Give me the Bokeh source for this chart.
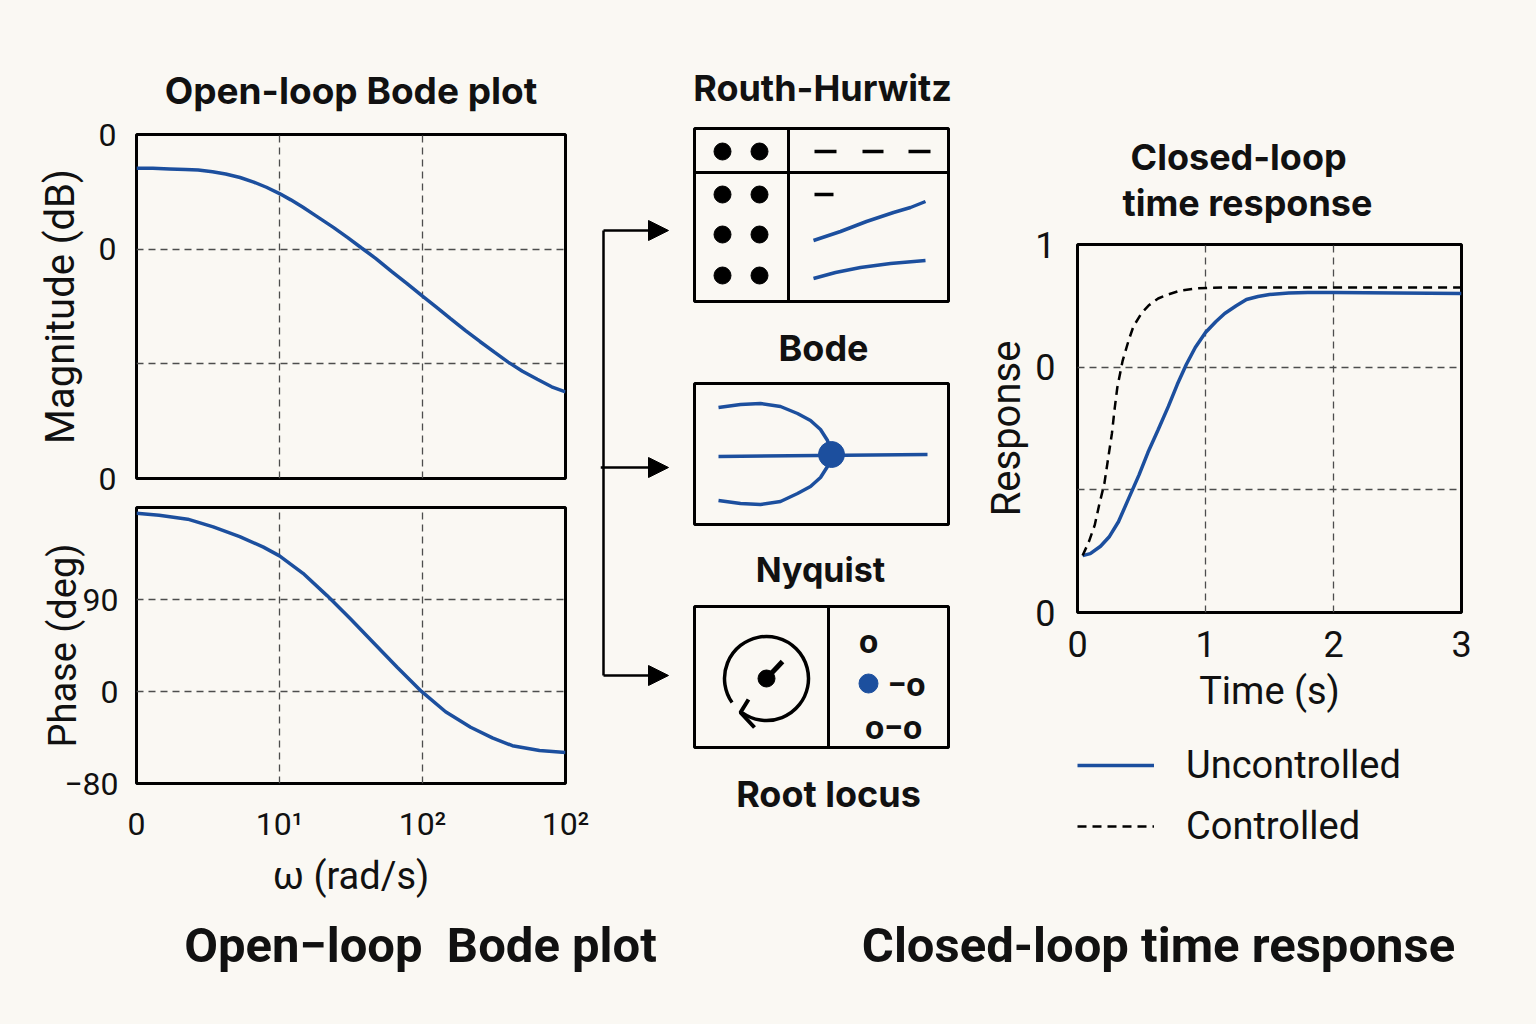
import numpy as np
from bokeh.plotting import figure
from bokeh.layouts import row, column
from bokeh.models import Range1d, FixedTicker, Arrow, NormalHead, Legend, LegendItem, Title
from bokeh.core.properties import value
from bokeh.embed import file_html
from bokeh.resources import INLINE

BG = "#faf8f3"
BLUE = "#1c4f9e"
INK = "#111111"
GRID = "#4d4d4d"
TITLE_FONT = "Inter"
LABEL_FONT = "Roboto"
CAPTION_FONT = "Roboto"

# ---------------- data ----------------
bode_omega = [1.0, 1.3, 1.7, 2.2, 2.7, 3.4, 4.2, 5.3, 6.6, 8.1, 10, 12, 14.6, 18, 23.8, 30,
              37.5, 47, 61, 78, 100, 125, 157, 200, 252, 320, 397, 500, 635, 800, 1000]
bode_mag_db = [-5.9, -5.9, -6.0, -6.1, -6.2, -6.5, -6.9, -7.5, -8.3, -9.2, -10.3, -11.4, -12.7,
               -14.2, -16.2, -18.0, -19.8, -21.6, -23.9, -26.0, -28.2, -30.1, -32.1, -34.2,
               -36.1, -38.0, -39.7, -41.3, -42.7, -44.0, -44.9]
phase_omega = [1.0, 1.44, 2.28, 3.44, 5.27, 7.72, 10, 14.6, 21.5, 31.3, 44.9, 66.5, 98.4, 145,
               217, 308, 425, 658, 1000]
phase_deg = [174.3, 172.4, 168.6, 161.1, 151.6, 141.2, 132.7, 115.6, 93.8, 71.1, 48.5, 23.8,
             0.1, -19.8, -35.0, -45.4, -53.0, -57.7, -59.6]

omega_ticks = [1, 10, 100, 1000]
omega_tick_labels = ["0", "10¹", "10²", "10²"]
mag_yticks = [0, -20, -40, -60]
mag_ytick_labels = ["0", "0", "", "0"]
phase_yticks = [-90, 0, 90]
phase_ytick_labels = ["−80", "0", "90"]

time_unc = [0.04, 0.10, 0.18, 0.25, 0.32, 0.40, 0.48, 0.55, 0.63, 0.71, 0.78, 0.85, 0.92, 1.00,
            1.08, 1.15, 1.24, 1.32, 1.41, 1.50, 1.65, 1.80, 2.00, 2.50, 3.00]
resp_unc = [0.232, 0.240, 0.270, 0.310, 0.370, 0.465, 0.560, 0.652, 0.745, 0.840, 0.930, 1.011,
            1.080, 1.141, 1.185, 1.219, 1.250, 1.276, 1.288, 1.296, 1.302, 1.304, 1.304, 1.302,
            1.300]
time_ctl = [0.04, 0.09, 0.134, 0.17, 0.21, 0.24, 0.269, 0.29, 0.311, 0.353, 0.40, 0.437, 0.50,
            0.555, 0.63, 0.706, 0.80, 0.924, 1.05, 1.213, 2.0, 3.0]
resp_ctl = [0.232, 0.29, 0.355, 0.44, 0.526, 0.63, 0.730, 0.83, 0.917, 1.027, 1.11, 1.166, 1.22,
            1.251, 1.280, 1.296, 1.312, 1.321, 1.324, 1.325, 1.325, 1.325]
time_ticks = [0, 1, 2, 3]
time_tick_labels = ["0", "1", "2", "3"]
resp_yticks = [0, 0.5, 1.0, 1.5]
resp_ytick_labels = ["0", "", "0", "1"]
series_names = ["Uncontrolled", "Controlled"]

# schematic panels (middle column, page-pixel coordinates)
panel_titles = ["Routh-Hurwitz", "Bode", "Nyquist", "Root locus"]
panel_title_x = [822, 823, 820, 828]
panel_title_y = [87, 347, 569, 793]
panel_title_size = ["36px", "36px", "34px", "36px"]
box_left = [694, 694, 694]
box_right = [948, 948, 948]
box_top = [128, 383, 606]
box_bottom = [301, 524, 747]
divider_x0 = [788, 694, 828]
divider_y0 = [128, 172, 606]
divider_x1 = [788, 948, 828]
divider_y1 = [301, 172, 747]
routh_dot_x = [722, 759, 722, 759, 722, 759, 722, 759]
routh_dot_y = [151, 151, 194, 194, 234, 234, 275, 275]
routh_dash_x0 = [814, 862, 908, 814]
routh_dash_x1 = [836, 883, 930, 833]
routh_dash_y = [151, 151, 151, 194]
routh_curve1_x = [813, 840, 866, 893, 910, 925]
routh_curve1_y = [240, 231, 221, 212, 207, 201]
routh_curve2_x = [813, 835, 860, 890, 925]
routh_curve2_y = [278, 272, 267, 263, 260]
bode_sk_mid_x = [718, 927]
bode_sk_mid_y = [456, 454]
bode_sk_arc_x = [718, 740, 760, 780, 797, 810, 820, 827, 831]
bode_sk_up_y = [407, 404, 403, 406, 413, 420, 429, 440, 453]
bode_sk_lo_y = [500, 503, 504, 501, 493, 486, 477, 466, 453]
bode_sk_dot = (831, 454)
nyq_center = (766, 678)
nyq_radius = 42
nyq_start_deg = 235
nyq_end_deg = 215
nyq_needle_x = [766, 782]
nyq_needle_y = [678, 661]
nyq_chevron_x = [748, 740, 754]
nyq_chevron_y = [699, 712, 727]
rl_text = ["o", "−o", "o−o"]
rl_text_x = [868, 906, 893]
rl_text_y = [640, 683, 726]
rl_dot = (868, 683)
conn_x = [603, 603]
conn_y = [230, 675]
arrow_rows = [(603, 230), (600, 467), (603, 675)]
arrow_tip_x = 668

captions = ["Open−loop \u00a0Bode plot", "Closed-loop time response"]
caption_x = [420, 1158]
caption_y = [45, 45]


def base_fig(**kw):
    p = figure(output_backend="svg", toolbar_location=None, **kw)
    p.background_fill_color = BG
    p.border_fill_color = BG
    return p


def bare(p):
    p.outline_line_color = None
    p.xgrid.visible = False
    p.ygrid.visible = False


def style_axes(p, tick_size, label_size):
    p.outline_line_color = "black"
    p.outline_line_width = 3
    for ax in p.axis:
        ax.axis_line_color = None
        ax.major_tick_line_color = None
        ax.minor_tick_line_color = None
        ax.major_label_text_font = LABEL_FONT
        ax.major_label_text_font_size = tick_size
        ax.major_label_text_color = INK
        ax.axis_label_text_font = LABEL_FONT
        ax.axis_label_text_font_size = label_size
        ax.axis_label_text_font_style = "normal"
        ax.axis_label_text_color = INK
    for g in p.grid:
        g.grid_line_color = GRID
        g.grid_line_dash = "7 5"
        g.grid_line_width = 1.3


def style_title(t, size, standoff, align="center", offset=0):
    t.text_font = TITLE_FONT
    t.text_font_size = size
    t.text_font_style = "bold"
    t.text_color = INK
    t.align = align
    t.standoff = standoff
    t.offset = offset


omega_range = Range1d(1, 1000)

# ---------------- magnitude ----------------
pm = base_fig(width=600, height=500, x_axis_type="log", x_range=omega_range,
              y_range=Range1d(-60, 0), title="Open-loop Bode plot",
              min_border_left=136, min_border_right=35, min_border_top=134,
              min_border_bottom=22)
pm.xaxis.ticker = FixedTicker(ticks=omega_ticks)
pm.xgrid.ticker = FixedTicker(ticks=omega_ticks)
pm.xaxis.visible = False
pm.yaxis.ticker = FixedTicker(ticks=mag_yticks)
pm.ygrid.ticker = FixedTicker(ticks=mag_yticks)
pm.yaxis.major_label_overrides = dict(zip(mag_yticks, mag_ytick_labels))
pm.yaxis.axis_label = "Magnitude (dB)"
style_axes(pm, "32px", "40px")
pm.yaxis.major_label_standoff = 14
pm.yaxis.axis_label_standoff = 12
style_title(pm.title, "37px", 44)
pm.line(bode_omega, bode_mag_db, line_color=BLUE, line_width=3.5)
# connector leaving the magnitude plot towards the diagrams
y_conn = -(467 - 134) * 60 / 344
pm.add_layout(Arrow(end=None, x_start=1000, y_start=y_conn, x_end=1000 * 10 ** (45 / 143),
                    y_end=y_conn, line_width=2.5, line_color="black"))

# ---------------- phase ----------------
pp = base_fig(width=600, height=400, x_axis_type="log", x_range=omega_range,
              y_range=Range1d(-90, 180),
              min_border_left=136, min_border_right=35, min_border_top=7,
              min_border_bottom=107)
pp.xaxis.ticker = FixedTicker(ticks=omega_ticks)
pp.xgrid.ticker = FixedTicker(ticks=omega_ticks)
pp.xaxis.major_label_overrides = dict(zip(omega_ticks, omega_tick_labels))
pp.yaxis.ticker = FixedTicker(ticks=phase_yticks)
pp.ygrid.ticker = FixedTicker(ticks=phase_yticks)
pp.yaxis.major_label_overrides = dict(zip(phase_yticks, phase_ytick_labels))
pp.yaxis.axis_label = "Phase (deg)"
pp.xaxis.axis_label = "ω (rad/s)"
style_axes(pp, "32px", "38px")
pp.yaxis.major_label_standoff = 12
pp.yaxis.axis_label_standoff = -24
pp.xaxis.major_label_standoff = 15
pp.xaxis.axis_label_standoff = 8
pp.line(phase_omega, phase_deg, line_color=BLUE, line_width=3.5)

# ---------------- schematic column ----------------
pc = base_fig(width=370, height=900, x_range=Range1d(600, 970), y_range=Range1d(900, 0),
              x_axis_location=None, y_axis_location=None, min_border=0)
bare(pc)
pc.text(x=panel_title_x, y=panel_title_y, text=panel_titles, text_align="center",
        text_baseline="middle", text_font=value(TITLE_FONT), text_font_size=panel_title_size,
        text_font_style="bold", text_color=INK)
pc.quad(left=box_left, right=box_right, top=box_top, bottom=box_bottom,
        fill_color=None, line_color="black", line_width=3)
pc.segment(x0=divider_x0, y0=divider_y0, x1=divider_x1, y1=divider_y1,
           line_color="black", line_width=3)
pc.scatter(routh_dot_x, routh_dot_y, size=17, color="black")
pc.segment(x0=routh_dash_x0, y0=routh_dash_y, x1=routh_dash_x1, y1=routh_dash_y,
           line_color="black", line_width=3.5)
pc.line(routh_curve1_x, routh_curve1_y, line_color=BLUE, line_width=3.5)
pc.line(routh_curve2_x, routh_curve2_y, line_color=BLUE, line_width=3.5)
pc.line(bode_sk_mid_x, bode_sk_mid_y, line_color=BLUE, line_width=3.5)
pc.line(bode_sk_arc_x, bode_sk_up_y, line_color=BLUE, line_width=3.5)
pc.line(bode_sk_arc_x, bode_sk_lo_y, line_color=BLUE, line_width=3.5)
pc.scatter([bode_sk_dot[0]], [bode_sk_dot[1]], size=26, color=BLUE)
pc.arc(x=[nyq_center[0]], y=[nyq_center[1]], radius=nyq_radius,
       start_angle=np.radians(nyq_start_deg), end_angle=np.radians(nyq_end_deg),
       direction="anticlock", line_color="black", line_width=3.5)
pc.line(nyq_needle_x, nyq_needle_y, line_color="black", line_width=5)
pc.scatter([nyq_center[0]], [nyq_center[1]], size=17, color="black")
pc.line(nyq_chevron_x, nyq_chevron_y, line_color="black", line_width=4)
pc.text(x=rl_text_x, y=rl_text_y, text=rl_text, text_align="center", text_baseline="middle",
        text_font=value(LABEL_FONT), text_font_size="34px", text_font_style="bold",
        text_color=INK)
pc.scatter([rl_dot[0]], [rl_dot[1]], size=19, color=BLUE)
pc.line(conn_x, conn_y, line_color="black", line_width=2.5)
for (xs, ys) in arrow_rows:
    pc.add_layout(Arrow(end=NormalHead(size=20, fill_color="black", line_color="black"),
                        x_start=xs, y_start=ys, x_end=arrow_tip_x, y_end=ys,
                        line_width=2.5, line_color="black"))

# ---------------- closed-loop response ----------------
pr = base_fig(width=566, height=720, x_range=Range1d(0, 3), y_range=Range1d(0, 1.5),
              title="Closed-loop",
              min_border_left=107, min_border_right=75, min_border_top=244,
              min_border_bottom=108)
pr.xaxis.ticker = FixedTicker(ticks=time_ticks)
pr.xgrid.ticker = FixedTicker(ticks=time_ticks)
pr.xaxis.major_label_overrides = dict(zip(time_ticks, time_tick_labels))
pr.yaxis.ticker = FixedTicker(ticks=resp_yticks)
pr.ygrid.ticker = FixedTicker(ticks=resp_yticks)
pr.yaxis.major_label_overrides = dict(zip(resp_yticks, resp_ytick_labels))
pr.xaxis.axis_label = "Time (s)"
pr.yaxis.axis_label = "Response"
style_axes(pr, "36px", "38px")
pr.yaxis.axis_label_text_font_size = "40px"
pr.yaxis.major_label_standoff = 16
pr.yaxis.axis_label_standoff = 2
pr.xaxis.major_label_standoff = 12
pr.xaxis.axis_label_standoff = 9
style_title(pr.title, "36px", -40, align="left", offset=53)
sub = Title(text="time response")
style_title(sub, "36px", 40, align="left", offset=45)
pr.add_layout(sub, "above")
pr.line(time_unc, resp_unc, line_color=BLUE, line_width=3.5)
pr.line(time_ctl, resp_ctl, line_color="black", line_width=2.5, line_dash="9 6")

# legend panel under the response plot (series drawn out of view, legend only)
pl = base_fig(width=566, height=180, x_range=Range1d(0, 3), y_range=Range1d(10, 11),
              x_axis_location=None, y_axis_location=None, min_border=0)
bare(pl)
l_unc = pl.line(time_unc, resp_unc, line_color=BLUE, line_width=3.5)
l_ctl = pl.line(time_ctl, resp_ctl, line_color="black", line_width=2.5, line_dash="9 6")
legend = Legend(items=[LegendItem(label=series_names[0], renderers=[l_unc]),
                       LegendItem(label=series_names[1], renderers=[l_ctl])],
                location=(0, 52), margin=0, padding=0, spacing=17,
                glyph_width=77, glyph_height=44, label_height=44, label_standoff=32,
                label_text_font=LABEL_FONT, label_text_font_size="38px",
                label_text_color=INK, border_line_color=None, background_fill_alpha=0)
pl.add_layout(legend)

# ---------------- captions ----------------
pb = base_fig(width=1536, height=124, x_range=Range1d(0, 1536), y_range=Range1d(124, 0),
              x_axis_location=None, y_axis_location=None, min_border=0)
bare(pb)
pb.text(x=caption_x, y=caption_y, text=captions, text_align="center", text_baseline="middle",
        text_font=value(CAPTION_FONT), text_font_size="49px", text_font_style="bold",
        text_color=INK)

root = column(row(column(pm, pp, spacing=0), pc, column(pr, pl, spacing=0), spacing=0),
              pb, spacing=0)
root.styles = {"background-color": BG}

open("out.html", "w").write(file_html(root, INLINE))
